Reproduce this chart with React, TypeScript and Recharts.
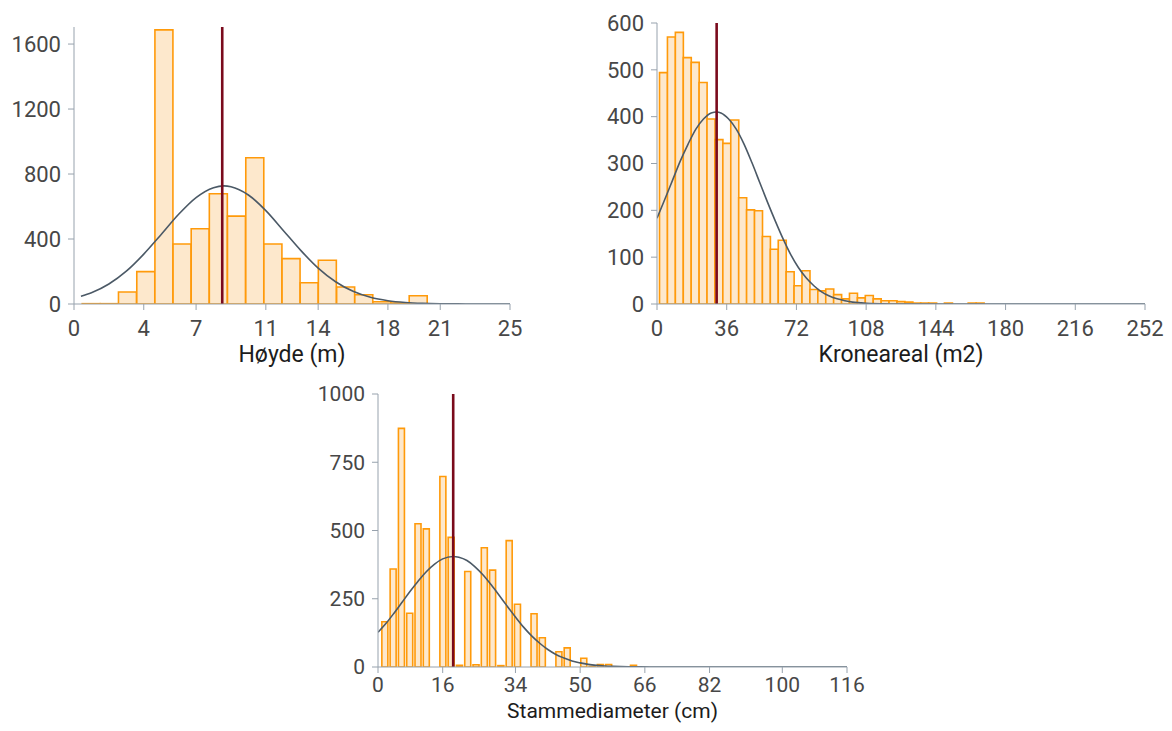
import { ComposedChart, Bar, Line, XAxis, YAxis, ReferenceLine } from 'recharts'

// Høyde (m)
const hoydeBinCenters = [0.99, 2.03, 3.07, 4.12, 5.16, 6.2, 7.24, 8.28, 9.32, 10.37, 11.41, 12.45, 13.49, 14.53, 15.58, 16.62, 17.66, 18.7, 19.74]
const hoydeCounts = [2, 2, 74, 199, 1687, 369, 463, 679, 541, 900, 369, 279, 131, 269, 105, 57, 14, 6, 51]
const hoydeCurveX = [0.4, 1, 2, 3, 4, 5, 6, 7, 8, 8.6, 9, 10, 11, 12, 13, 14, 15, 16, 17, 18, 19, 20, 21, 22, 23, 25]
const hoydeCurveY = [47, 69, 123, 202, 307, 428, 552, 655, 716, 727, 722, 671, 575, 453, 330, 221, 137, 78, 41, 20, 9, 3.6, 1.3, 0.5, 0, 0]
const hoydeTicks = [0, 4, 7, 11, 14, 18, 21, 25]
const hoydeYTicks = [0, 400, 800, 1200, 1600]
const hoydeMean = 8.5

// Kroneareal (m2)
const kroneBinCenters = [3.34, 7.43, 11.52, 15.61, 19.69, 23.78, 27.87, 31.95, 36.04, 40.13, 44.21, 48.3, 52.39, 56.47, 60.56, 64.65, 68.73, 72.82, 76.91, 80.99, 85.08, 89.17, 93.25, 97.34, 101.43, 105.52, 109.6, 113.69, 117.78, 121.86, 125.95, 130.04, 134.12, 138.21, 142.3, 146.38, 150.47, 154.56, 158.64, 162.73, 166.82]
const kroneCounts = [494, 570, 580, 526, 516, 473, 395, 351, 343, 393, 227, 201, 199, 144, 117, 136, 69, 39, 71, 31, 28, 32, 20, 11, 23, 13, 18, 11, 7, 7, 5, 4, 2, 2, 2, 0, 2, 0, 0, 2, 2]
const kroneCurveX = [0, 4, 8, 12, 16, 20, 24, 28, 30.8, 33, 37, 41, 45, 49, 53, 57, 61, 65, 69, 73, 77, 81, 85, 89, 93, 97, 101, 105, 110, 120, 252]
const kroneCurveY = [183, 223, 264, 305, 341, 373, 395, 408, 410, 408, 395, 373, 341, 302, 260, 218, 178, 140, 106, 78, 56, 39, 26, 17, 11, 7, 4, 2.5, 1, 0, 0]
const kroneTicks = [0, 36, 72, 108, 144, 180, 216, 252]
const kroneYTicks = [0, 100, 200, 300, 400, 500, 600]
const kroneMean = 30.8

// Stammediameter (cm)
const stammeBinCenters = [1.73, 3.78, 5.83, 7.88, 9.93, 11.98, 14.03, 16.08, 18.13, 20.18, 22.23, 24.28, 26.33, 28.38, 30.43, 32.48, 34.53, 36.58, 38.63, 40.68, 42.73, 44.78, 46.83, 48.88, 50.93, 52.98, 55.03, 57.08, 59.13, 61.18, 63.23]
const stammeCounts = [166, 359, 874, 197, 525, 506, 0, 698, 475, 6, 350, 8, 437, 355, 5, 463, 230, 0, 195, 107, 0, 56, 70, 0, 32, 2, 9, 9, 0, 0, 6]
const stammeCurveX = [0, 2, 4, 6, 8, 10, 12, 14, 16, 18.6, 20, 22, 24, 26, 28, 30, 32, 34, 36, 38, 40, 42, 44, 46, 48, 50, 52, 54, 56, 58, 60, 65, 70, 116]
const stammeCurveY = [127, 160, 198, 238, 278, 316, 350, 377, 396, 405, 402, 390, 367, 337, 301, 262, 222, 183, 146, 114, 87, 64, 46, 33, 22, 15, 9.6, 6, 3.7, 2.2, 1.3, 0.3, 0, 0]
const stammeTicks = [0, 16, 34, 50, 66, 82, 100, 116]
const stammeYTicks = [0, 250, 500, 750, 1000]
const stammeMean = 18.6

const axisColor = '#97a2ad'

const toBins = (xs: number[], counts: number[]) => xs.map((x, i) => ({ x, count: counts[i] }))
const toCurve = (xs: number[], ys: number[]) => xs.map((x, i) => ({ x, y: ys[i] }))

interface HistProps {
  bins: { x: number; count: number }[]
  curve: { x: number; y: number }[]
  mean: number
  xTicks: number[]
  yTicks: number[]
  xMax: number
  yMax: number
  title: string
  width: number
  height: number
  top: number
  right: number
  yAxisWidth: number
  gap: number
  tickSize: number
  tickGap: number
  axisHeight: number
  titleOffset: number
  titleSize: number
}

function Histogram(p: HistProps) {
  const tickStyle = { fill: '#474747', fontSize: p.tickSize }
  return (
    <ComposedChart
      width={p.width}
      height={p.height}
      data={p.bins}
      margin={{ top: p.top, right: p.right, bottom: 0, left: 0 }}
      barCategoryGap={p.gap}
      style={{ fontFamily: 'Roboto' }}
    >
      <XAxis
        xAxisId="bins"
        type="number"
        dataKey="x"
        domain={[0, p.xMax]}
        ticks={p.xTicks}
        interval={0}
        allowDataOverflow
        stroke={axisColor}
        tick={tickStyle}
        tickMargin={p.tickGap}
        height={p.axisHeight}
        label={{ value: p.title, position: 'insideBottom', offset: p.titleOffset, fill: '#1c1c1c', fontSize: p.titleSize }}
      />
      <XAxis xAxisId="curve" type="number" dataKey="x" domain={[0, p.xMax]} allowDataOverflow hide />
      <YAxis
        type="number"
        domain={[0, p.yMax]}
        ticks={p.yTicks}
        interval={0}
        allowDataOverflow
        width={p.yAxisWidth}
        stroke={axisColor}
        tick={tickStyle}
        tickMargin={7}
      />
      <Bar xAxisId="bins" dataKey="count" fill="#fde8cc" stroke="#ff9a0a" strokeWidth={1.6} isAnimationActive={false} />
      <Line
        xAxisId="curve"
        data={p.curve}
        dataKey="y"
        type="monotone"
        dot={false}
        stroke="#4b5966"
        strokeWidth={1.6}
        isAnimationActive={false}
      />
      <ReferenceLine xAxisId="bins" x={p.mean} stroke="#7a0a1c" strokeWidth={2.6} />
    </ComposedChart>
  )
}

export default function App() {
  return (
    <div style={{ position: 'relative', width: 1156, height: 715 }}>
      <div style={{ position: 'absolute', left: 0, top: 0, width: 532 }}>
        <Histogram
          bins={toBins(hoydeBinCenters, hoydeCounts)}
          curve={toCurve(hoydeCurveX, hoydeCurveY)}
          mean={hoydeMean}
          xTicks={hoydeTicks}
          yTicks={hoydeYTicks}
          xMax={25}
          yMax={1705}
          title="Høyde (m)"
          width={532}
          height={368}
          top={19}
          right={30}
          yAxisWidth={66}
          gap={0}
          tickSize={22}
          tickGap={10}
          axisHeight={72}
          titleOffset={14}
          titleSize={23}
        />
      </div>
      <div style={{ position: 'absolute', left: 552, top: 0, width: 604 }}>
        <Histogram
          bins={toBins(kroneBinCenters, kroneCounts)}
          curve={toCurve(kroneCurveX, kroneCurveY)}
          mean={kroneMean}
          xTicks={kroneTicks}
          yTicks={kroneYTicks}
          xMax={252}
          yMax={600}
          title="Kroneareal (m2)"
          width={604}
          height={368}
          top={15}
          right={19}
          yAxisWidth={97}
          gap={0}
          tickSize={22}
          tickGap={10}
          axisHeight={72}
          titleOffset={14}
          titleSize={23}
        />
      </div>
      <div style={{ position: 'absolute', left: 292, top: 372, width: 570 }}>
        <Histogram
          bins={toBins(stammeBinCenters, stammeCounts)}
          curve={toCurve(stammeCurveX, stammeCurveY)}
          mean={stammeMean}
          xTicks={stammeTicks}
          yTicks={stammeYTicks}
          xMax={116}
          yMax={1000}
          title="Stammediameter (cm)"
          width={570}
          height={343}
          top={14}
          right={23}
          yAxisWidth={78}
          gap={1}
          tickSize={21}
          tickGap={4}
          axisHeight={56}
          titleOffset={5}
          titleSize={21}
        />
      </div>
    </div>
  )
}
